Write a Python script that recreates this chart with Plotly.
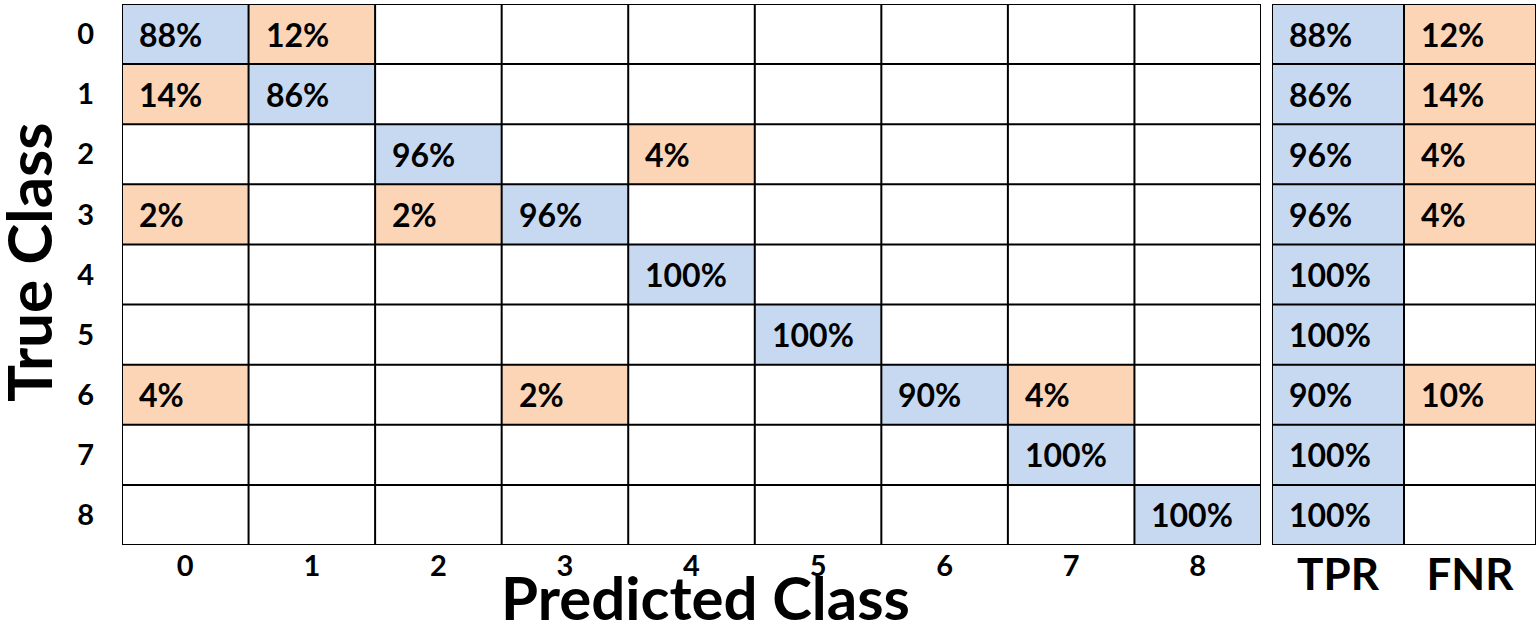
import plotly.graph_objects as go

clases = ['0', '1', '2', '3', '4', '5', '6', '7', '8']
metricas = ['TPR', 'FNR']

# matriz de confusion en %, filas = clase real, columnas = clase predicha (None = vacio)
matriz = [
    [88, 12, None, None, None, None, None, None, None],
    [14, 86, None, None, None, None, None, None, None],
    [None, None, 96, None, 4, None, None, None, None],
    [2, None, 2, 96, None, None, None, None, None],
    [None, None, None, None, 100, None, None, None, None],
    [None, None, None, None, None, 100, None, None, None],
    [4, None, None, 2, None, None, 90, 4, None],
    [None, None, None, None, None, None, None, 100, None],
    [None, None, None, None, None, None, None, None, 100],
]
tpr = [88, 86, 96, 96, 100, 100, 90, 100, 100]
fnr = [12, 14, 4, 4, None, None, 10, None, None]

AZUL = '#C6D9F0'
NARANJA = '#FBD5B5'
FUENTE = 'Lato'
W, H = 1540, 627

n = len(clases)

# 0 = acierto (azul), 1 = error (naranja)
z_main = [[None if v is None else (0 if i == j else 1) for j, v in enumerate(fila)]
          for i, fila in enumerate(matriz)]
side = [[t, f] for t, f in zip(tpr, fnr)]
z_side = [[None if v is None else k for k, v in enumerate(fila)] for fila in side]

escala = [[0, AZUL], [0.5, AZUL], [0.5, NARANJA], [1, NARANJA]]

fig = go.Figure()
fig.add_trace(go.Heatmap(z=z_main, x=list(range(n)), y=list(range(n)), colorscale=escala,
                         zmin=0, zmax=1, showscale=False, hoverinfo='skip',
                         xaxis='x', yaxis='y'))
fig.add_trace(go.Heatmap(z=z_side, x=list(range(2)), y=list(range(n)), colorscale=escala,
                         zmin=0, zmax=1, showscale=False, hoverinfo='skip',
                         xaxis='x2', yaxis='y2'))

shapes = []
annots = []
linea = dict(color='black', width=2)


def rejilla(ncol, nfil, xr, yr):
    for c in range(ncol + 1):
        shapes.append(dict(type='line', xref=xr, yref=yr, x0=c - 0.5, x1=c - 0.5,
                           y0=-0.5, y1=nfil - 0.5, line=linea))
    for r in range(nfil + 1):
        shapes.append(dict(type='line', xref=xr, yref=yr, x0=-0.5, x1=ncol - 0.5,
                           y0=r - 0.5, y1=r - 0.5, line=linea))


def textos(datos, xr, yr):
    for i, fila in enumerate(datos):
        for j, v in enumerate(fila):
            if v is None:
                continue
            annots.append(dict(x=j - 0.5, y=i, xref=xr, yref=yr, text=f'{v}%',
                               showarrow=False, xanchor='left', xshift=15,
                               font=dict(family=FUENTE, size=32, color='black', weight='bold')))


rejilla(n, n, 'x', 'y')
rejilla(2, n, 'x2', 'y2')
textos(matriz, 'x', 'y')
textos(side, 'x2', 'y2')

annots.append(dict(x=28 / W, y=1 - 262 / H, xref='paper', yref='paper', text='True Class',
                   textangle=-90, showarrow=False, xanchor='center', yanchor='middle',
                   font=dict(family=FUENTE, size=62, color='black', weight='bold')))
annots.append(dict(x=705 / W, y=1 - 597 / H, xref='paper', yref='paper', text='Predicted Class',
                   showarrow=False, xanchor='center', yanchor='middle',
                   font=dict(family=FUENTE, size=60, color='black', weight='bold')))

ydom = [1 - 545 / H, 1 - 4 / H]
fuente_tick = dict(family=FUENTE, size=29, color='black', weight='bold')

fig.update_layout(
    width=W, height=H,
    margin=dict(l=0, r=0, t=0, b=0),
    plot_bgcolor='white', paper_bgcolor='white',
    shapes=shapes, annotations=annots,
    xaxis=dict(domain=[122 / W, 1261 / W], range=[-0.5, n - 0.5], tickvals=list(range(n)),
               ticktext=clases, showgrid=False, zeroline=False, ticks='',
               tickfont=fuente_tick, automargin=False, ticklabelstandoff=1, fixedrange=True),
    yaxis=dict(domain=ydom, range=[n - 0.5, -0.5], tickvals=list(range(n)), ticktext=clases,
               showgrid=False, zeroline=False, ticks='', tickfont=fuente_tick,
               automargin=False, ticklabelstandoff=27, fixedrange=True),
    xaxis2=dict(domain=[1272 / W, 1536 / W], range=[-0.5, 1.5], tickvals=[0, 1],
                ticktext=metricas, showgrid=False, zeroline=False, ticks='',
                tickfont=dict(family=FUENTE, size=44, color='black', weight='bold'),
                automargin=False, ticklabelstandoff=0, anchor='y2', fixedrange=True),
    yaxis2=dict(domain=ydom, range=[n - 0.5, -0.5], showticklabels=False, showgrid=False,
                zeroline=False, ticks='', anchor='x2', fixedrange=True),
)

fig.write_html('out.html', config={'displayModeBar': False},
               post_script="document.body.style.margin='0';")
